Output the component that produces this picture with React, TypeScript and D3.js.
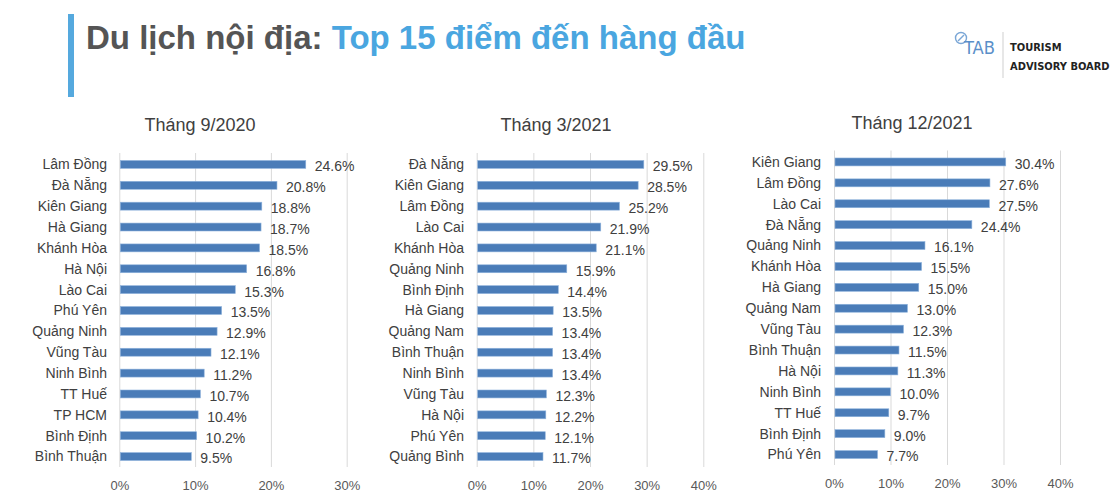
import { useEffect, useRef } from 'react'
import * as d3 from 'd3'

// Top 15 destinations, share of respondents (%)
const sep2020Places = ['Lâm Đồng', 'Đà Nẵng', 'Kiên Giang', 'Hà Giang', 'Khánh Hòa', 'Hà Nội', 'Lào Cai', 'Phú Yên', 'Quảng Ninh', 'Vũng Tàu', 'Ninh Bình', 'TT Huế', 'TP HCM', 'Bình Định', 'Bình Thuận']
const sep2020Values = [24.6, 20.8, 18.8, 18.7, 18.5, 16.8, 15.3, 13.5, 12.9, 12.1, 11.2, 10.7, 10.4, 10.2, 9.5]

const mar2021Places = ['Đà Nẵng', 'Kiên Giang', 'Lâm Đồng', 'Lào Cai', 'Khánh Hòa', 'Quảng Ninh', 'Bình Định', 'Hà Giang', 'Quảng Nam', 'Bình Thuận', 'Ninh Bình', 'Vũng Tàu', 'Hà Nội', 'Phú Yên', 'Quảng Bình']
const mar2021Values = [29.5, 28.5, 25.2, 21.9, 21.1, 15.9, 14.4, 13.5, 13.4, 13.4, 13.4, 12.3, 12.2, 12.1, 11.7]

const dec2021Places = ['Kiên Giang', 'Lâm Đồng', 'Lào Cai', 'Đà Nẵng', 'Quảng Ninh', 'Khánh Hòa', 'Hà Giang', 'Quảng Nam', 'Vũng Tàu', 'Bình Thuận', 'Hà Nội', 'Ninh Bình', 'TT Huế', 'Bình Định', 'Phú Yên']
const dec2021Values = [30.4, 27.6, 27.5, 24.4, 16.1, 15.5, 15.0, 13.0, 12.3, 11.5, 11.3, 10.0, 9.7, 9.0, 7.7]

const ticks30 = [0, 10, 20, 30]
const ticks40 = [0, 10, 20, 30, 40]

const panelTitles = ['Tháng 9/2020', 'Tháng 3/2021', 'Tháng 12/2021']

const FONT = '"Liberation Sans", Arial, sans-serif'
const NARROW = '"DejaVu Sans Condensed", sans-serif'
const BAR = '#4a7cb8'
const GRID = '#d9d9d9'
const TEXT = '#404040'

export default function App() {
  const svgRef = useRef<SVGSVGElement>(null)

  useEffect(() => {
    if (!svgRef.current) return
    const svg = d3.select(svgRef.current)
    svg.selectAll('*').remove()

    // Header
    svg.append('rect')
      .attr('x', 68).attr('y', 14).attr('width', 6).attr('height', 83)
      .attr('fill', '#55a9de')

    const title = svg.append('text')
      .attr('x', 86).attr('y', 49)
      .style('font-family', FONT)
      .style('font-weight', 'bold')
      .style('font-size', '33px')
    title.append('tspan').attr('fill', '#555555').text('Du lịch nội địa: ')
    title.append('tspan').attr('fill', '#4aa6e0').text('Top 15 điểm đến hàng đầu')

    // Logo
    const logo = svg.append('g')
    logo.append('circle')
      .attr('cx', 961).attr('cy', 38).attr('r', 5.5)
      .attr('fill', 'none').attr('stroke', '#7aa6d6').attr('stroke-width', 1.4)
    logo.append('line')
      .attr('x1', 958).attr('y1', 41).attr('x2', 964).attr('y2', 35)
      .attr('stroke', '#7aa6d6').attr('stroke-width', 1.4)
    logo.append('text')
      .attr('x', 964).attr('y', 54)
      .attr('textLength', 31).attr('lengthAdjust', 'spacingAndGlyphs')
      .attr('fill', '#5b8fc9')
      .style('font-family', NARROW)
      .style('font-size', '18px')
      .text('TAB')
    logo.append('line')
      .attr('x1', 1003).attr('y1', 32).attr('x2', 1003).attr('y2', 78)
      .attr('stroke', '#cfcfcf').attr('stroke-width', 1)
    logo.append('text')
      .attr('x', 1010).attr('y', 51)
      .attr('fill', '#222222')
      .style('font-family', NARROW)
      .style('font-weight', 'bold')
      .style('font-size', '11px')
      .text('TOURISM')
    logo.append('text')
      .attr('x', 1010).attr('y', 70)
      .attr('fill', '#222222')
      .style('font-family', NARROW)
      .style('font-weight', 'bold')
      .style('font-size', '11px')
      .text('ADVISORY BOARD')

    const panels = [
      { places: sep2020Places, values: sep2020Values, ticks: ticks30, x0: 119.3, x1: 346.7, y0: 154, y1: 467, labelX: 107, tickY: 485, titleX: 200, titleY: 131 },
      { places: mar2021Places, values: mar2021Values, ticks: ticks40, x0: 476.7, x1: 703.3, y0: 154, y1: 467, labelX: 464, tickY: 485, titleX: 556, titleY: 131 },
      { places: dec2021Places, values: dec2021Values, ticks: ticks40, x0: 834, x1: 1060, y0: 151.5, y1: 465, labelX: 821, tickY: 483, titleX: 912, titleY: 129 },
    ]

    panels.forEach((p, i) => {
      const g = svg.append('g')
      const maxTick = p.ticks[p.ticks.length - 1]

      const xScale = d3.scaleLinear().domain([0, maxTick]).range([p.x0, p.x1])
      const yScale = d3.scaleBand<string>()
        .domain(p.places)
        .range([p.y0, p.y1])
        .paddingInner(0.62)
        .paddingOuter(0.31)

      // Grid lines
      g.append('g')
        .attr('transform', `translate(0, ${p.y1})`)
        .call(d3.axisBottom(xScale)
          .tickValues(p.ticks)
          .tickSize(-(p.y1 - p.y0 + 1))
          .tickFormat(() => ''))
        .call(a => a.select('.domain').remove())
        .selectAll('line')
        .attr('stroke', GRID)

      // Tick labels
      g.append('g')
        .attr('transform', `translate(0, ${p.tickY})`)
        .call(d3.axisBottom(xScale)
          .tickValues(p.ticks)
          .tickSize(0)
          .tickPadding(0)
          .tickFormat(d => `${d}%`))
        .call(a => a.select('.domain').remove())
        .selectAll('text')
        .attr('dy', '0.35em')
        .attr('fill', '#595959')
        .style('font-family', FONT)
        .style('font-size', '13px')

      // Bars
      g.selectAll('rect.bar')
        .data(p.values)
        .enter()
        .append('rect')
        .attr('class', 'bar')
        .attr('x', xScale(0) + 1)
        .attr('y', (_, j) => yScale(p.places[j])!)
        .attr('width', d => xScale(d) - xScale(0) - 1)
        .attr('height', yScale.bandwidth())
        .attr('fill', BAR)
        .attr('stroke', '#8fb3dc')
        .attr('stroke-width', 0.6)

      // Category labels
      g.selectAll('text.cat')
        .data(p.places)
        .enter()
        .append('text')
        .attr('class', 'cat')
        .attr('x', p.labelX)
        .attr('y', d => yScale(d)! + yScale.bandwidth() / 2)
        .attr('dy', '0.35em')
        .attr('text-anchor', 'end')
        .attr('fill', TEXT)
        .style('font-family', FONT)
        .style('font-size', '14px')
        .text(d => d)

      // Value labels
      g.selectAll('text.val')
        .data(p.values)
        .enter()
        .append('text')
        .attr('class', 'val')
        .attr('x', d => xScale(d) + 9)
        .attr('y', (_, j) => yScale(p.places[j])! + yScale.bandwidth() / 2 + 2)
        .attr('dy', '0.35em')
        .attr('fill', TEXT)
        .style('font-family', FONT)
        .style('font-size', '14px')
        .text(d => `${d.toFixed(1)}%`)

      // Panel title
      g.append('text')
        .attr('x', p.titleX)
        .attr('y', p.titleY)
        .attr('text-anchor', 'middle')
        .attr('fill', TEXT)
        .style('font-family', FONT)
        .style('font-size', '18px')
        .text(panelTitles[i])
    })
  }, [])

  return (
    <svg
      ref={svgRef}
      width={1120}
      height={500}
      style={{ position: 'absolute', left: 0, top: 0, background: '#ffffff', display: 'block' }}
    />
  )
}
